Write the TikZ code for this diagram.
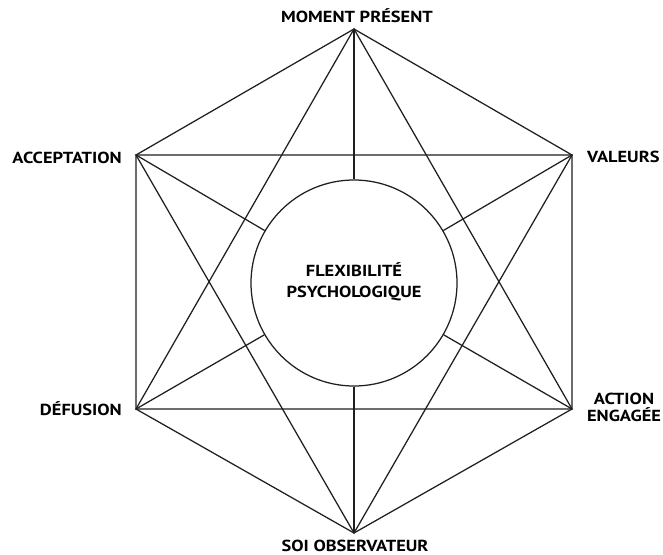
\documentclass[tikz,border=0pt]{standalone}
\usepackage{fontspec}
\setmainfont{PT Sans}
\newfontfamily\labfont[FakeStretch=1.15]{PT Sans}
\begin{document}
\begin{tikzpicture}[x=1pt,y=-1pt,
  edge/.style={draw=black!88, line width=1.25pt},
  lab/.style={inner sep=0pt, font=\labfont\fontsize{16}{19}\selectfont\bfseries, text=black}]
\fill[white] (0,0) rectangle (663,554);
\useasboundingbox (0,0) rectangle (663,554);
\coordinate (T) at (354,29);
\coordinate (A) at (136,155);
\coordinate (V) at (572,155);
\coordinate (D) at (136,409);
\coordinate (E) at (572,409);
\coordinate (B) at (354,533);
\node[circle, edge, minimum size=206pt, inner sep=0pt] (C) at (354,283) {};
% hexagon sides
\draw[edge] (T) -- (A) -- (D) -- (B) -- (E) -- (V) -- cycle;
% short diagonals (two triangles)
\draw[edge] (T) -- (D) -- (E) -- cycle;
\draw[edge] (A) -- (V) -- (B) -- cycle;
% long diagonals, interrupted by the circle
\draw[edge] (T) -- (C);
\draw[edge] (C) -- (B);
\draw[edge] (A) -- (C);
\draw[edge] (C) -- (E);
\draw[edge] (V) -- (C);
\draw[edge] (C) -- (D);
% labels
\node[lab, anchor=base] (lT) at (357,22.7) {MOMENT PRÉSENT};
\node[lab, anchor=base east] (lA) at (122,163.3) {ACCEPTATION};
\node[lab, anchor=base west] (lV) at (587,162.7) {VALEURS};
\node[lab, anchor=base east] (lD) at (122,415) {DÉFUSION};
\node[lab, anchor=base] (lE1) at (624,404) {ACTION};
\node[lab, anchor=base] (lE2) at (624,421.7) {ENGAGÉE};
\node[lab, anchor=base] (lB) at (355,551) {SOI OBSERVATEUR};
\node[lab, anchor=base] (lC1) at (354,276) {FLEXIBILITÉ};
\node[lab, anchor=base] (lC2) at (354,297) {PSYCHOLOGIQUE};
\end{tikzpicture}
\end{document}
